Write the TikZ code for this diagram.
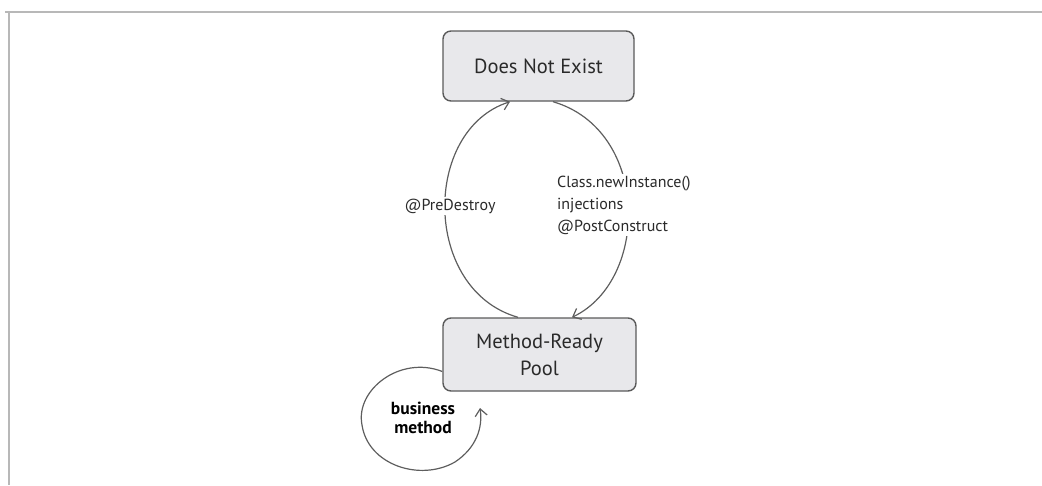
\documentclass[tikz,border=0pt]{standalone}
\usepackage{fontspec}
\setmainfont{PT Sans}
\usetikzlibrary{arrows.meta}
\definecolor{boxfill}{HTML}{E8E8EB}
\definecolor{boxline}{HTML}{5A5A5A}
\definecolor{linec}{HTML}{5E5E5E}
\definecolor{textc}{HTML}{2A2A2A}
\definecolor{framec}{HTML}{B8B8B8}
\begin{document}
\begin{tikzpicture}[x=1pt,y=-1pt,
  state/.style={draw=boxline, fill=boxfill, line width=1.4pt, rounded corners=8pt,
    align=center, text=textc, font=\fontsize{20.5}{27}\selectfont},
  conn/.style={draw=linec, line width=1.2pt, -{Straight Barb[length=7pt,width=12pt]}},
  lbl/.style={fill=white, text=textc, inner sep=2pt, align=left, font=\fontsize{16}{22}\selectfont}]
\useasboundingbox (0,0) rectangle (1042,485);
\draw[framec, line width=2pt] (5,12) -- (1042,12);
\draw[framec, line width=1.5pt] (9,12) -- (9,485);
\node[state, minimum width=191, minimum height=70] (dne) at (538.5,66) {Does Not Exist};
\node[state, minimum width=193, minimum height=73] (mrp) at (539.5,354.5) {Method-Ready\\Pool};
\draw[conn] ([xshift=14.5]dne.south) .. controls (650,130) and (650,280) .. ([xshift=32.5]mrp.north);
\draw[conn] ([xshift=-21.5]mrp.north) .. controls (422,290) and (422,130) .. ([xshift=-28.5]dne.south);
\coordinate (loopend) at (480,408);
\draw[conn] ([yshift=-17]mrp.west) .. controls (400,355) and (355,390) .. (362,425)
  .. controls (368,465) and (420,482) .. (455,462) .. controls (476,448) and (483,428) .. (loopend);
\node[lbl] (pd) at (450,206) {@PreDestroy};
\node[lbl, anchor=west] (cn) at (555,205) {Class.newInstance()\\injections\\@PostConstruct};
\node[align=center, font=\fontsize{17.5}{19}\selectfont\bfseries, text=black] (bm) at (423,418) {business\\method};
\end{tikzpicture}
\end{document}
